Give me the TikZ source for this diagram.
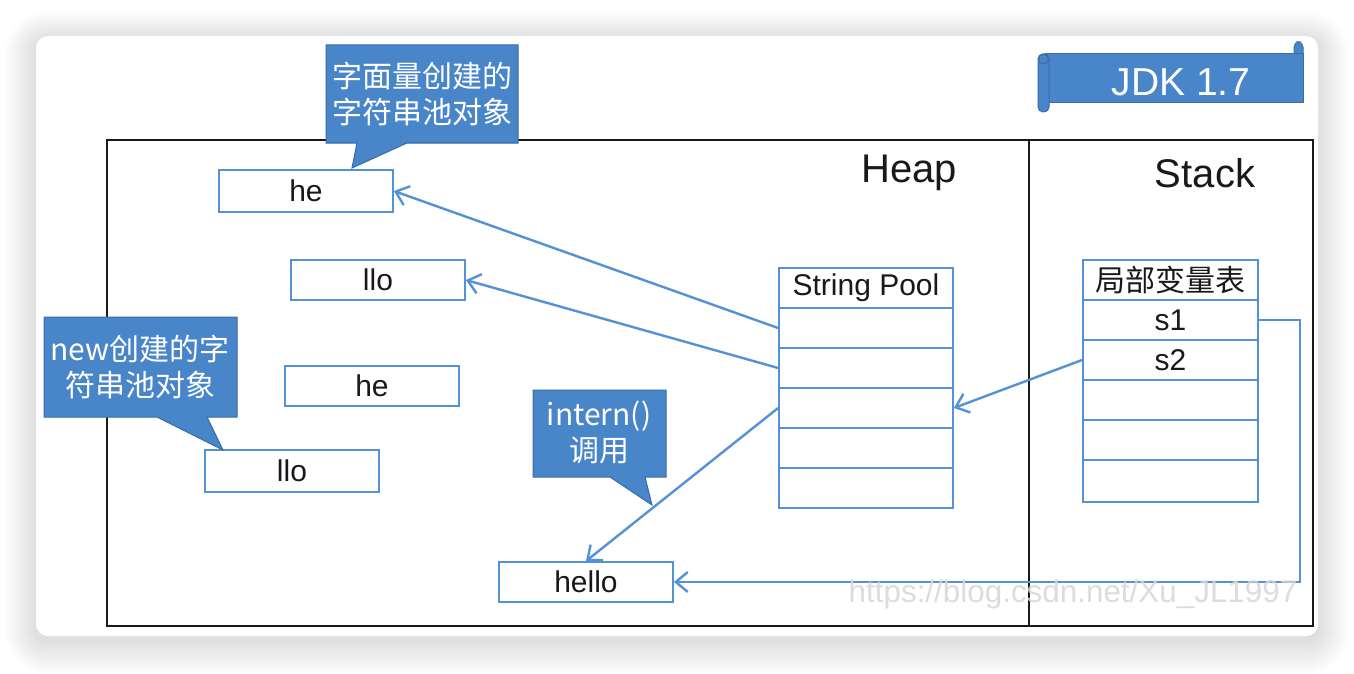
\documentclass[tikz,border=0pt]{standalone}
\usepackage{fontspec}
\setmainfont{Liberation Sans}
\newfontfamily\cjk{Noto Sans CJK SC}
\usetikzlibrary{arrows.meta}
\definecolor{lblue}{RGB}{84,146,214}
\definecolor{cfill}{RGB}{72,133,201}
\definecolor{cborder}{RGB}{58,108,168}
\definecolor{txt}{RGB}{25,25,25}
\definecolor{wm}{RGB}{215,215,215}
\begin{document}
\begin{tikzpicture}[x=0.5pt,y=-0.5pt,
  box/.style={draw=lblue, line width=0.9pt, fill=white, inner sep=0pt, minimum width=87pt, minimum height=20pt, font=\fontsize{15}{18}\selectfont, text=txt},
  arr/.style={draw=lblue, line width=1.2pt, -{Straight Barb[length=6pt,width=10pt]}},
  callout/.style={fill=cfill, draw=cborder, line width=0.5pt},
  ctext/.style={text=white, font=\cjk\fontsize{15}{18}\selectfont, align=center, inner sep=0pt},
  title/.style={font=\fontsize{20}{24}\selectfont, text=txt}
]
\useasboundingbox (0,0) rectangle (1354,674);
\fill[white] (0,0) rectangle (1354,674);
% card shadow (soft)
\foreach \i in {1,...,32} {
  \fill[black, opacity=0.0058, rounded corners={(6+0.5*\i)*1pt}] ({36-\i},{40-0.9*\i}) rectangle ({1318+\i},{641+1.05*\i});
}
\fill[white, rounded corners=6pt] (36,36) rectangle (1318,636);

% heap / stack frame
\draw[line width=1pt, draw=txt] (107,140) rectangle (1313,626);
\draw[line width=1pt, draw=txt] (1029,140) -- (1029,626);
\node[title] (heap) at (909,173) {Heap};
\node[title] (stack) at (1205,173) {Stack};

% JDK banner
\filldraw[callout, rounded corners=2.5pt] (1294,62) -- (1294,42) -- (1303,42) -- (1303,62);
\filldraw[callout] (1045,54) rectangle (1303,103);
\filldraw[callout, rounded corners=2.5pt] (1038,54) rectangle (1049,112);
\draw[cborder, line width=0.5pt] (1043.5,59) circle (2.5pt);
\node[text=white, font=\fontsize{19.5}{24}\selectfont] (jdk) at (1181,82) {JDK 1.7};

% heap boxes
\node[box, minimum height=21pt] (he1) at (306,191) {he};
\node[box] (llo1) at (378,280) {llo};
\node[box] (he2) at (372,386) {he};
\node[box, minimum height=21pt] (llo2) at (292,471) {llo};
\node[box] (hello) at (586,582) {hello};

% string pool
\node[box] (sp0) at (866,288) {String Pool};
\node[box] (sp1) at (866,328) {};
\node[box] (sp2) at (866,368) {};
\node[box] (sp3) at (866,408) {};
\node[box] (sp4) at (866,448) {};
\node[box] (sp5) at (866,488) {};

% local variable table
\node[box, minimum width=87.5pt] (lv0) at (1170.5,280) {\cjk 局部变量表};
\node[box, minimum width=87.5pt] (lv1) at (1170.5,320) {s1};
\node[box, minimum width=87.5pt] (lv2) at (1170.5,360) {s2};
\node[box, minimum width=87.5pt] (lv3) at (1170.5,400) {};
\node[box, minimum width=87.5pt] (lv4) at (1170.5,440) {};
\node[box, minimum width=87.5pt, minimum height=21pt] (lv5) at (1170.5,481) {};

% connectors
\draw[arr] (sp1.west) -- (he1.east);
\draw[arr] (sp2.west) -- (llo1.east);
\draw[arr] (sp3.west) -- (hello.north);
\draw[arr] (lv2.west) -- (sp3.east);
\draw[arr] (lv1.east) -- ++(41,0) |- (hello.east);

% callouts
\filldraw[callout] (326,45) -- (518,45) -- (518,143) -- (407,143) -- (352,168) -- (357,143) -- (326,143) -- cycle;
\node[ctext] (c1) at (422,94) {字面量创建的\\字符串池对象};
\filldraw[callout] (44,317) -- (237,317) -- (237,417) -- (207,417) -- (223,450) -- (157,417) -- (44,417) -- cycle;
\node[ctext] (c2) at (140,367) {new创建的字\\符串池对象};
\filldraw[callout] (533,390) -- (666,390) -- (666,477) -- (645,477) -- (652,505) -- (610,477) -- (533,477) -- cycle;
\node[ctext] (c3) at (599,433) {intern()\\调用};

% watermark
\node[text=wm, opacity=0.85, font=\fontsize{15.7}{18}\selectfont] (wmk) at (1073,594) {https://blog.csdn.net/Xu\_JL1997};
\end{tikzpicture}
\end{document}
